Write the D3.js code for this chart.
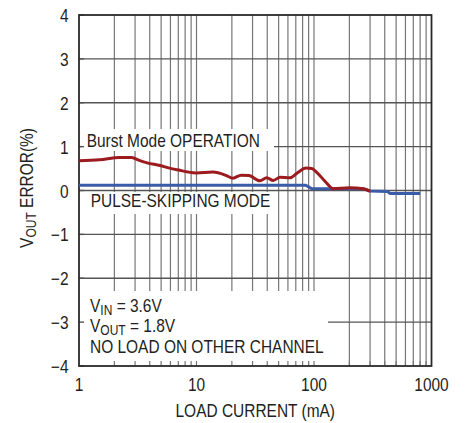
<!DOCTYPE html>
<html>
<head>
<meta charset="utf-8">
<script src="https://cdn.jsdelivr.net/npm/d3@7"></script>
<style>
  body { margin: 0; background: #fff; }
  text { font-family: "Liberation Sans", Arial, sans-serif; fill: #231f20; }
</style>
</head>
<body>
<svg id="chart" width="467" height="423"></svg>
<script>
// Load current (mA) and output voltage error (%)
const burstLoad = [1, 1.5, 2.2, 2.8, 3.3, 3.8, 4.9, 5.9, 7.2, 8.5, 10, 13.8, 18, 20.4, 24, 28, 34.7, 39.6, 45, 51.4, 62.5, 72, 85.5, 95.6, 105, 125, 146, 202, 263, 300]
const burstErr = [0.68, 0.70, 0.75, 0.75, 0.68, 0.63, 0.57, 0.51, 0.46, 0.42, 0.40, 0.42, 0.34, 0.28, 0.35, 0.34, 0.22, 0.29, 0.23, 0.30, 0.29, 0.40, 0.51, 0.50, 0.42, 0.20, 0.04, 0.06, 0.04, -0.02]

const pskipLoad = [1, 85, 96, 263, 300, 420, 445, 800]
const pskipErr = [0.12, 0.12, 0.04, 0.04, -0.01, -0.02, -0.07, -0.07]

const xTicks = [1, 10, 100, 1000]
const yTicks = [-4, -3, -2, -1, 0, 1, 2, 3, 4]

const margin = { top: 15, right: 35.5, bottom: 57, left: 79 }
const width = 467 - margin.left - margin.right
const height = 423 - margin.top - margin.bottom

// the original font is a condensed sans, so squeeze text horizontally
const squeeze = 0.86

const xScale = d3.scaleLog().domain([1, 1000]).range([0, width])
const yScale = d3.scaleLinear().domain([-4, 4]).range([height, 0])

const svg = d3.select('#chart')
  .append('g')
  .attr('transform', `translate(${margin.left}, ${margin.top})`)

function label(x, y, size, anchor, rotate) {
  const g = svg.append('g')
    .attr('transform', `translate(${x}, ${y}) rotate(${rotate || 0}) scale(${squeeze}, 1)`)
  return g.append('text')
    .attr('font-size', size)
    .attr('text-anchor', anchor || 'start')
}

// V with a subscript, e.g. VIN / VOUT
function withSub(t, sub, rest) {
  t.append('tspan').text('V')
  t.append('tspan').attr('font-size', 14).attr('dy', 3).text(sub)
  t.append('tspan').attr('dy', -3).text(rest)
}

// minor + major vertical grid positions
const vLines = []
for (let dec = 1; dec < 1000; dec *= 10) {
  for (let k = 2; k <= 10; k++) vLines.push(dec * k)
}
vLines.pop() // 1000 is the frame

svg.selectAll('.vgrid').data(vLines).enter().append('line')
  .attr('class', 'vgrid')
  .attr('x1', d => xScale(d)).attr('x2', d => xScale(d))
  .attr('y1', 0).attr('y2', height)
  .attr('stroke', '#777').attr('stroke-width', 1.2)

svg.selectAll('.hgrid').data(yTicks.slice(1, -1)).enter().append('line')
  .attr('class', 'hgrid')
  .attr('x1', 0).attr('x2', width)
  .attr('y1', d => yScale(d)).attr('y2', d => yScale(d))
  .attr('stroke', '#555').attr('stroke-width', 1.4)

// white boxes behind the labels
const boxes = [
  [3, 114, 192, 22],
  [1, 177, 195, 22],
  [0, 276, 249, 75]
]
svg.selectAll('.box').data(boxes).enter().append('rect')
  .attr('x', d => d[0]).attr('y', d => d[1])
  .attr('width', d => d[2]).attr('height', d => d[3])
  .attr('fill', '#fff')

// inner ticks on bottom and left
svg.selectAll('.btick').data(vLines).enter().append('line')
  .attr('x1', d => xScale(d)).attr('x2', d => xScale(d))
  .attr('y1', height).attr('y2', height - 5)
  .attr('stroke', '#777').attr('stroke-width', 1.2)
svg.selectAll('.ltick').data(yTicks).enter().append('line')
  .attr('x1', 0).attr('x2', 5)
  .attr('y1', d => yScale(d)).attr('y2', d => yScale(d))
  .attr('stroke', '#555').attr('stroke-width', 1.4)

// frame
svg.append('rect')
  .attr('width', width).attr('height', height)
  .attr('fill', 'none').attr('stroke', '#2a2a2a').attr('stroke-width', 1.8)

const line = d3.line()
  .x(d => xScale(d[0]))
  .y(d => yScale(d[1]))

svg.append('path')
  .datum(d3.zip(pskipLoad, pskipErr))
  .attr('d', line.curve(d3.curveLinear))
  .attr('fill', 'none').attr('stroke', '#3a5ba8').attr('stroke-width', 3)

svg.append('path')
  .datum(d3.zip(burstLoad, burstErr))
  .attr('d', line.curve(d3.curveMonotoneX))
  .attr('fill', 'none').attr('stroke', '#9b1b1f').attr('stroke-width', 3)

// tick labels
xTicks.forEach(d => {
  label(xScale(d), height + 24.5, 18, 'middle').text(d)
})
yTicks.forEach(d => {
  label(-10.5, yScale(d) + 7, 18, 'end').text(d < 0 ? '\u2212' + Math.abs(d) : d)
})

// axis titles
label(width / 2, height + 50.5, 18, 'middle').text('LOAD CURRENT (mA)')
withSub(label(-46, 173, 18, 'middle', -90), 'OUT', ' ERROR(%)')

// annotations
label(7.7, 132.3, 18).text('Burst Mode OPERATION')
label(11.7, 192.3, 18).text('PULSE-SKIPPING MODE')
withSub(label(11, 296.7, 18), 'IN', ' = 3.6V')
withSub(label(11, 316.7, 18), 'OUT', ' = 1.8V')
label(11, 338, 18).text('NO LOAD ON OTHER CHANNEL')
</script>
</body>
</html>
